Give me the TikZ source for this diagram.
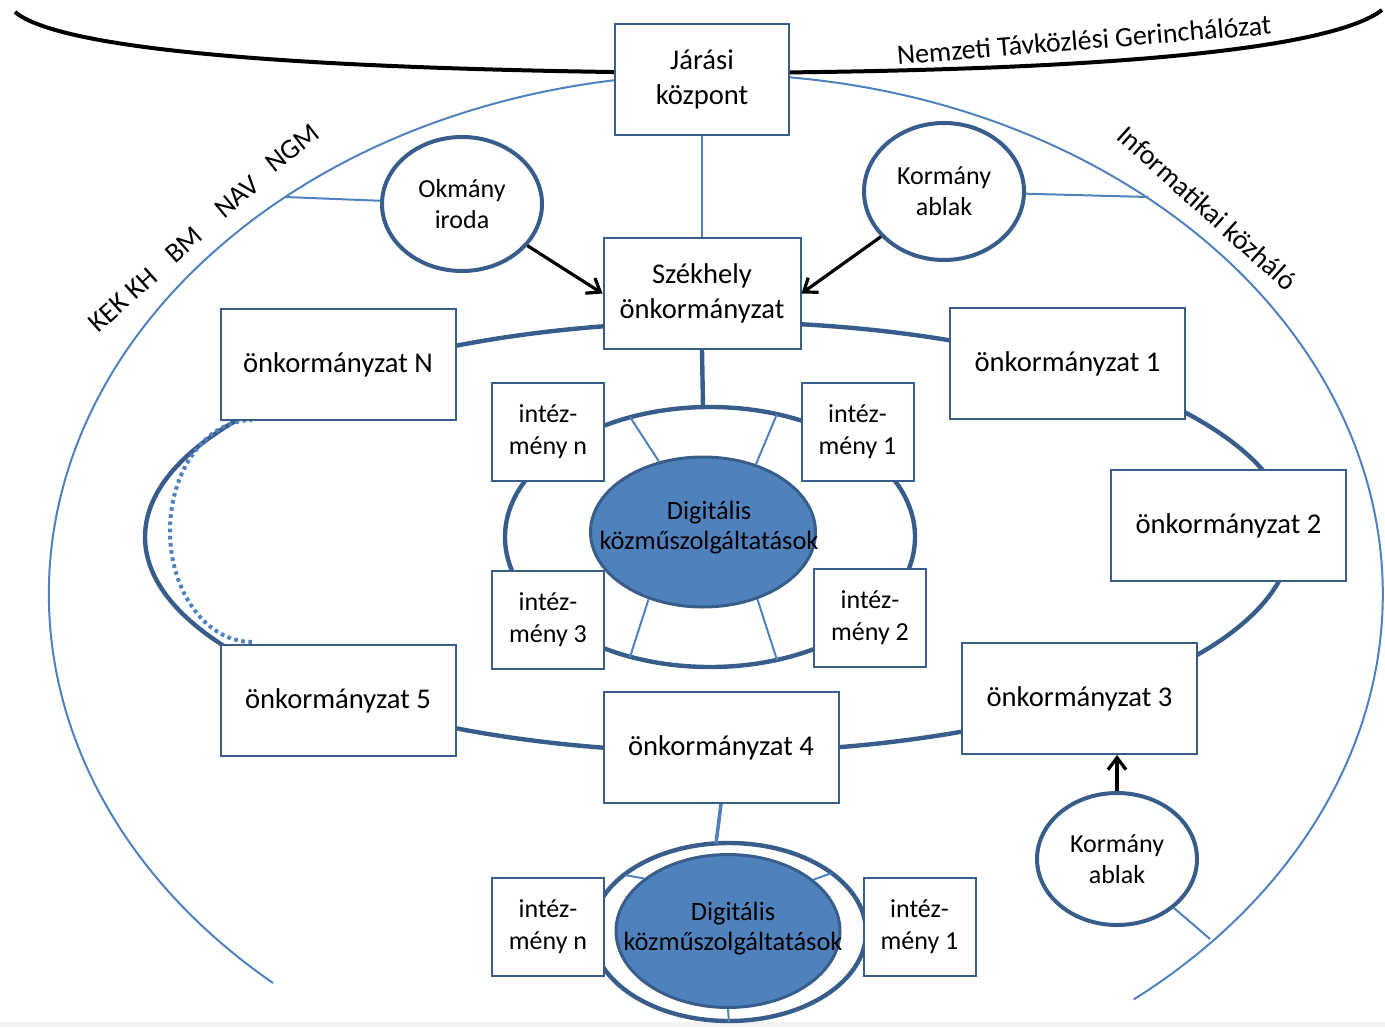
\documentclass[tikz,border=0pt]{standalone}
\usepackage{fontspec}
\setmainfont{Carlito}
\usetikzlibrary{positioning,shapes.geometric,arrows.meta}
\definecolor{ringblue}{HTML}{385D8A}
\definecolor{lineblue}{HTML}{4F81BD}
\tikzset{
    box/.style ={
        shape=rectangle,
        draw=ringblue,
        line width=1pt,
        fill=white,
        inner sep=0pt,
        align=center,
        font=\fontsize{14.3}{17.5}\selectfont
    },
    headbox/.style ={box, minimum width=87pt, minimum height=55.5pt},
    onkbox/.style ={box, minimum width=117.5pt, minimum height=55.5pt},
    intbox/.style ={box, minimum width=56pt, minimum height=49pt, font=\fontsize{13}{16}\selectfont},
    office/.style ={
        shape=ellipse,
        draw=ringblue,
        line width=2pt,
        fill=white,
        inner sep=0pt,
        align=center,
        minimum width=80pt,
        minimum height=67pt,
        font=\fontsize{13}{15.5}\selectfont
    },
    digi/.style ={
        shape=ellipse,
        draw=ringblue,
        line width=1.5pt,
        fill=lineblue,
        inner sep=0pt,
        minimum width=112pt,
        minimum height=76pt
    },
    digitext/.style ={align=center, inner sep=0pt, font=\fontsize{13.2}{15}\selectfont},
    ringline/.style ={draw=ringblue, line width=2.2pt},
    netline/.style ={draw=lineblue, line width=1pt},
    linkline/.style ={draw=lineblue, line width=1.8pt},
    dotline/.style ={draw=lineblue, line width=2pt, dash pattern=on 1.8pt off 1.8pt},
    arrowline/.style ={draw=black, line width=1.6pt, -{Straight Barb[length=6pt,width=9pt]}},
    tagtext/.style ={font=\fontsize{14}{16}\selectfont, inner sep=0pt}
}

\begin{document}
\begin{tikzpicture}[x=0.5pt,y=-0.5pt]
    \useasboundingbox (0,0) rectangle (1385,1027);
    \fill[gray!10] (0,1022) rectangle (1385,1027);
    % backbone and outer network
    \coordinate (ntgL) at (15,12);
    \coordinate (ntgR) at (1382,10);
    \draw[black,line width=2pt] (ntgL) .. controls (60,50) and (300,70) .. (702,73)
        .. controls (1100,72) and (1330,50) .. (ntgR);
    \coordinate (netS) at (273,983);
    \draw[netline] (netS) arc[start angle=131.6, end angle=411.2, x radius=667, y radius=520];
    \coordinate (netL) at (285,197);
    \coordinate (netR) at (1148,197);
    \coordinate (netB) at (1210,939);
    % rings
    \coordinate (bigc) at (718,537);
    \coordinate (innc) at (710,537);
    \coordinate (lowc) at (729,932);
    \draw[ringline] (bigc) ellipse[x radius=573, y radius=215];
    \draw[ringline] (innc) ellipse[x radius=205, y radius=130];
    \draw[ringline] (lowc) ellipse[x radius=137, y radius=89];
    \draw[dotline] (252,642) arc[start angle=90, end angle=270, x radius=82, y radius=111];
    % nodes
    \node[headbox] (jarasi) at (702,79.5) {Járási\\központ};
    \node[headbox, minimum width=98.5pt, below=50.5pt of jarasi] (szekhely) {Székhely\\önkormányzat};
    \node[office] (okmany) at (462,204) {Okmány\\iroda};
    \node[office, minimum height=68.5pt] (kormanyT) at (944,191.5) {Kormány\\ablak};
    \node[onkbox] (onkN) at (338,364.5) {önkormányzat N};
    \node[onkbox, below=111.5pt of onkN] (onk5) {önkormányzat 5};
    \node[onkbox] (onk1) at (1067.5,363.5) {önkormányzat 1};
    \node[onkbox] (onk2) at (1228.5,525.5) {önkormányzat 2};
    \node[onkbox] (onk3) at (1079.5,698.5) {önkormányzat 3};
    \node[onkbox] (onk4) at (721,747.5) {önkormányzat 4};
    \node[intbox] (intN) at (548,432) {intéz-\\mény n};
    \node[intbox, below=44pt of intN] (int3) {intéz-\\mény 3};
    \node[intbox] (int1) at (857.5,432) {intéz-\\mény 1};
    \node[intbox] (int2) at (870,618) {intéz-\\mény 2};
    \node[digi, minimum width=112.5pt, minimum height=75pt] (dig) at (703,532) {};
    \node[digitext] at (709,528) {Digitális\\közműszolgáltatások};
    \node[office, minimum height=66pt] (kormanyB) at (1117,859) {Kormány\\ablak};
    \node[intbox] (lintN) at (548,927) {intéz-\\mény n};
    \node[intbox] (lint1) at (919.5,927) {intéz-\\mény 1};
    \node[digi, minimum height=76.5pt] (ldig) at (728,931) {};
    \node[digitext] at (733,929) {Digitális\\közműszolgáltatások};
    % labels
    \node[tagtext, rotate=4.7] (ntglabel) at (1084,40) {Nemzeti Távközlési Gerinchálózat};
    \node[tagtext, rotate=-42] (infolabel) at (1207,208) {Informatikai közháló};
    \node[tagtext, rotate=42] (kekkh) at (123,300) {KEK KH};
    \node[tagtext, rotate=42] (bm) at (184,245) {BM};
    \node[tagtext, rotate=40] (nav) at (237,197) {NAV};
    \node[tagtext, rotate=38] (ngm) at (292,148) {NGM};
    % connectors
    \draw[netline] (jarasi) -- (szekhely);
    \draw[netline] (okmany) -- (netL);
    \draw[netline] (kormanyT) -- (netR);
    \draw[netline] (kormanyB) -- (netB);
    \draw[arrowline] (okmany) -- (szekhely.west);
    \draw[arrowline] (kormanyT) -- (szekhely.east);
    \draw[arrowline] (kormanyB.north) -- (kormanyB.north |- onk3.south);
    \coordinate (inntop) at (703,407);
    \draw[ringline] (szekhely.south) -- (inntop);
    \coordinate (sUL) at (630,417);
    \coordinate (sUR) at (777,414);
    \coordinate (sLL) at (630,657);
    \coordinate (sLR) at (777,660);
    \draw[netline] (dig.122) -- (sUL);
    \draw[netline] (dig.52) -- (sUR);
    \draw[netline] (dig.231) -- (sLL);
    \draw[netline] (dig.309) -- (sLR);
    \coordinate (lowtop) at (716,843.5);
    \draw[linkline] (onk4.south) -- (lowtop);
    \coordinate (lsL) at (625,875);
    \coordinate (lsR) at (832,873);
    \coordinate (digEnd) at (729,1022);
    \draw[netline] (ldig.148) -- (lsL);
    \draw[netline] (ldig.31) -- (lsR);
    \draw[netline] (ldig.south) -- (digEnd);
\end{tikzpicture}
\end{document}
